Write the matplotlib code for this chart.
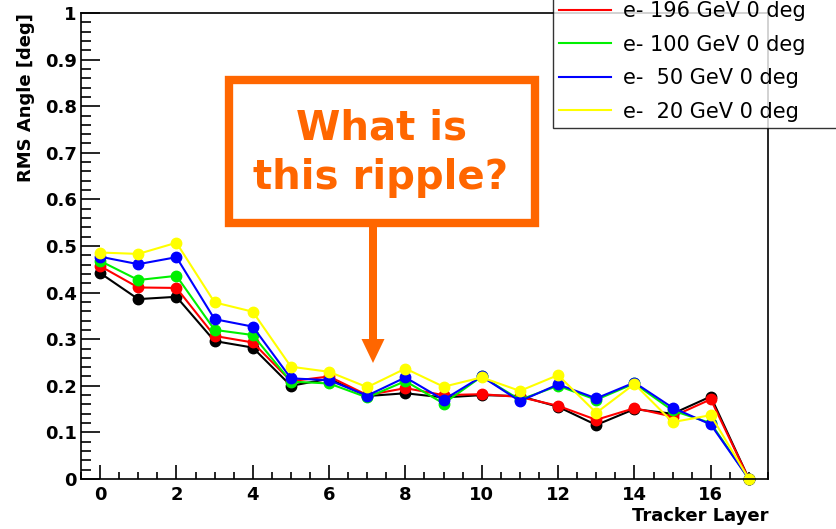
import numpy as np
import matplotlib
matplotlib.use('Agg')
import matplotlib.pyplot as plt
from matplotlib.lines import Line2D
from matplotlib.patches import Rectangle, FancyArrow
from matplotlib.ticker import MultipleLocator, FormatStrFormatter

# Data (RMS angle per tracker layer)
layers = list(range(18))
rms_black = [0.442, 0.386, 0.391, 0.296, 0.282, 0.200, 0.215, 0.178, 0.184, 0.175,
             0.180, 0.178, 0.155, 0.116, 0.150, 0.140, 0.177, 0.0]
rms_196 = [0.457, 0.411, 0.410, 0.307, 0.293, 0.210, 0.220, 0.180, 0.195, 0.180,
           0.182, 0.176, 0.157, 0.127, 0.152, 0.134, 0.171, 0.0]
rms_100 = [0.468, 0.427, 0.436, 0.320, 0.309, 0.209, 0.205, 0.175, 0.210, 0.162,
           0.220, 0.170, 0.200, 0.170, 0.205, 0.147, 0.120, 0.0]
rms_50 = [0.477, 0.461, 0.476, 0.343, 0.327, 0.216, 0.212, 0.179, 0.218, 0.170,
          0.220, 0.167, 0.203, 0.173, 0.207, 0.153, 0.117, 0.0]
rms_20 = [0.486, 0.483, 0.507, 0.379, 0.359, 0.241, 0.230, 0.197, 0.237, 0.198,
          0.218, 0.189, 0.223, 0.142, 0.204, 0.122, 0.137, 0.0]

labels = ['e- 196 GeV 0 deg', 'e- 100 GeV 0 deg', 'e-  50 GeV 0 deg', 'e-  20 GeV 0 deg']
orange = '#ff6600'
green = '#00f000'

fig = plt.figure(figsize=(8.36, 5.29), dpi=100)
ax = fig.add_axes([81 / 836, 1 - 479 / 529, 687 / 836, 466 / 529])

series = [(rms_black, 'black'), (rms_196, 'red'), (rms_100, green),
          (rms_50, 'blue'), (rms_20, '#ffff00')]
for vals, col in series:
    ax.plot(layers, vals, color=col, lw=1.5, marker='o', ms=7.5, clip_on=False)

ax.set_xlim(-0.5, 17.5)
ax.set_ylim(0, 1)
ax.xaxis.set_major_locator(MultipleLocator(2))
ax.xaxis.set_minor_locator(MultipleLocator(0.5))
ax.yaxis.set_major_locator(MultipleLocator(0.1))
ax.yaxis.set_minor_locator(MultipleLocator(0.02))
ax.yaxis.set_major_formatter(FormatStrFormatter('%g'))
ax.tick_params(axis='both', which='both', direction='in', width=1.2,
               labelsize=13)
ax.tick_params(axis='y', which='major', length=14, pad=3)
ax.tick_params(axis='y', which='minor', length=7.5)
ax.tick_params(axis='x', which='major', length=10, pad=5)
ax.tick_params(axis='x', which='minor', length=5)
for t in ax.get_xticklabels() + ax.get_yticklabels():
    t.set_fontweight('bold')
for s in ax.spines.values():
    s.set_linewidth(1.2)

ax.set_ylabel('RMS Angle [deg]', fontsize=13, fontweight='bold', loc='top', labelpad=7)
ax.set_xlabel('Tracker Layer', fontsize=13, fontweight='bold', loc='right', labelpad=2)

handles = [Line2D([], [], color=c, lw=1.5) for c in ['red', green, 'blue', '#ffff00']]
leg = fig.legend(handles, labels, loc='lower left',
                 bbox_to_anchor=(553 / 836, 1 - 128 / 529, 320 / 836, 0.1), mode='expand',
                 fontsize=15, frameon=True, fancybox=False, edgecolor='black',
                 borderaxespad=0, borderpad=0.3, handlelength=2.5, handletextpad=0.55,
                 labelspacing=0.65)
leg.get_frame().set_linewidth(1.0)

# overlay in pixel coordinates for the callout
ov = fig.add_axes([0, 0, 1, 1], facecolor='none')
ov.set_xlim(0, 836)
ov.set_ylim(529, 0)
ov.axis('off')
ov.add_patch(Rectangle((229, 80), 306, 143, fill=False, edgecolor=orange, lw=6))
ov.text(381, 153, 'What is\nthis ripple?', color=orange, fontsize=29, fontweight='bold',
        ha='center', va='center', linespacing=1.3)
ov.add_patch(FancyArrow(373, 227, 0, 136, width=8, head_width=23, head_length=24,
                        length_includes_head=True, color=orange, lw=0))

fig.savefig('out.png', dpi=100)
